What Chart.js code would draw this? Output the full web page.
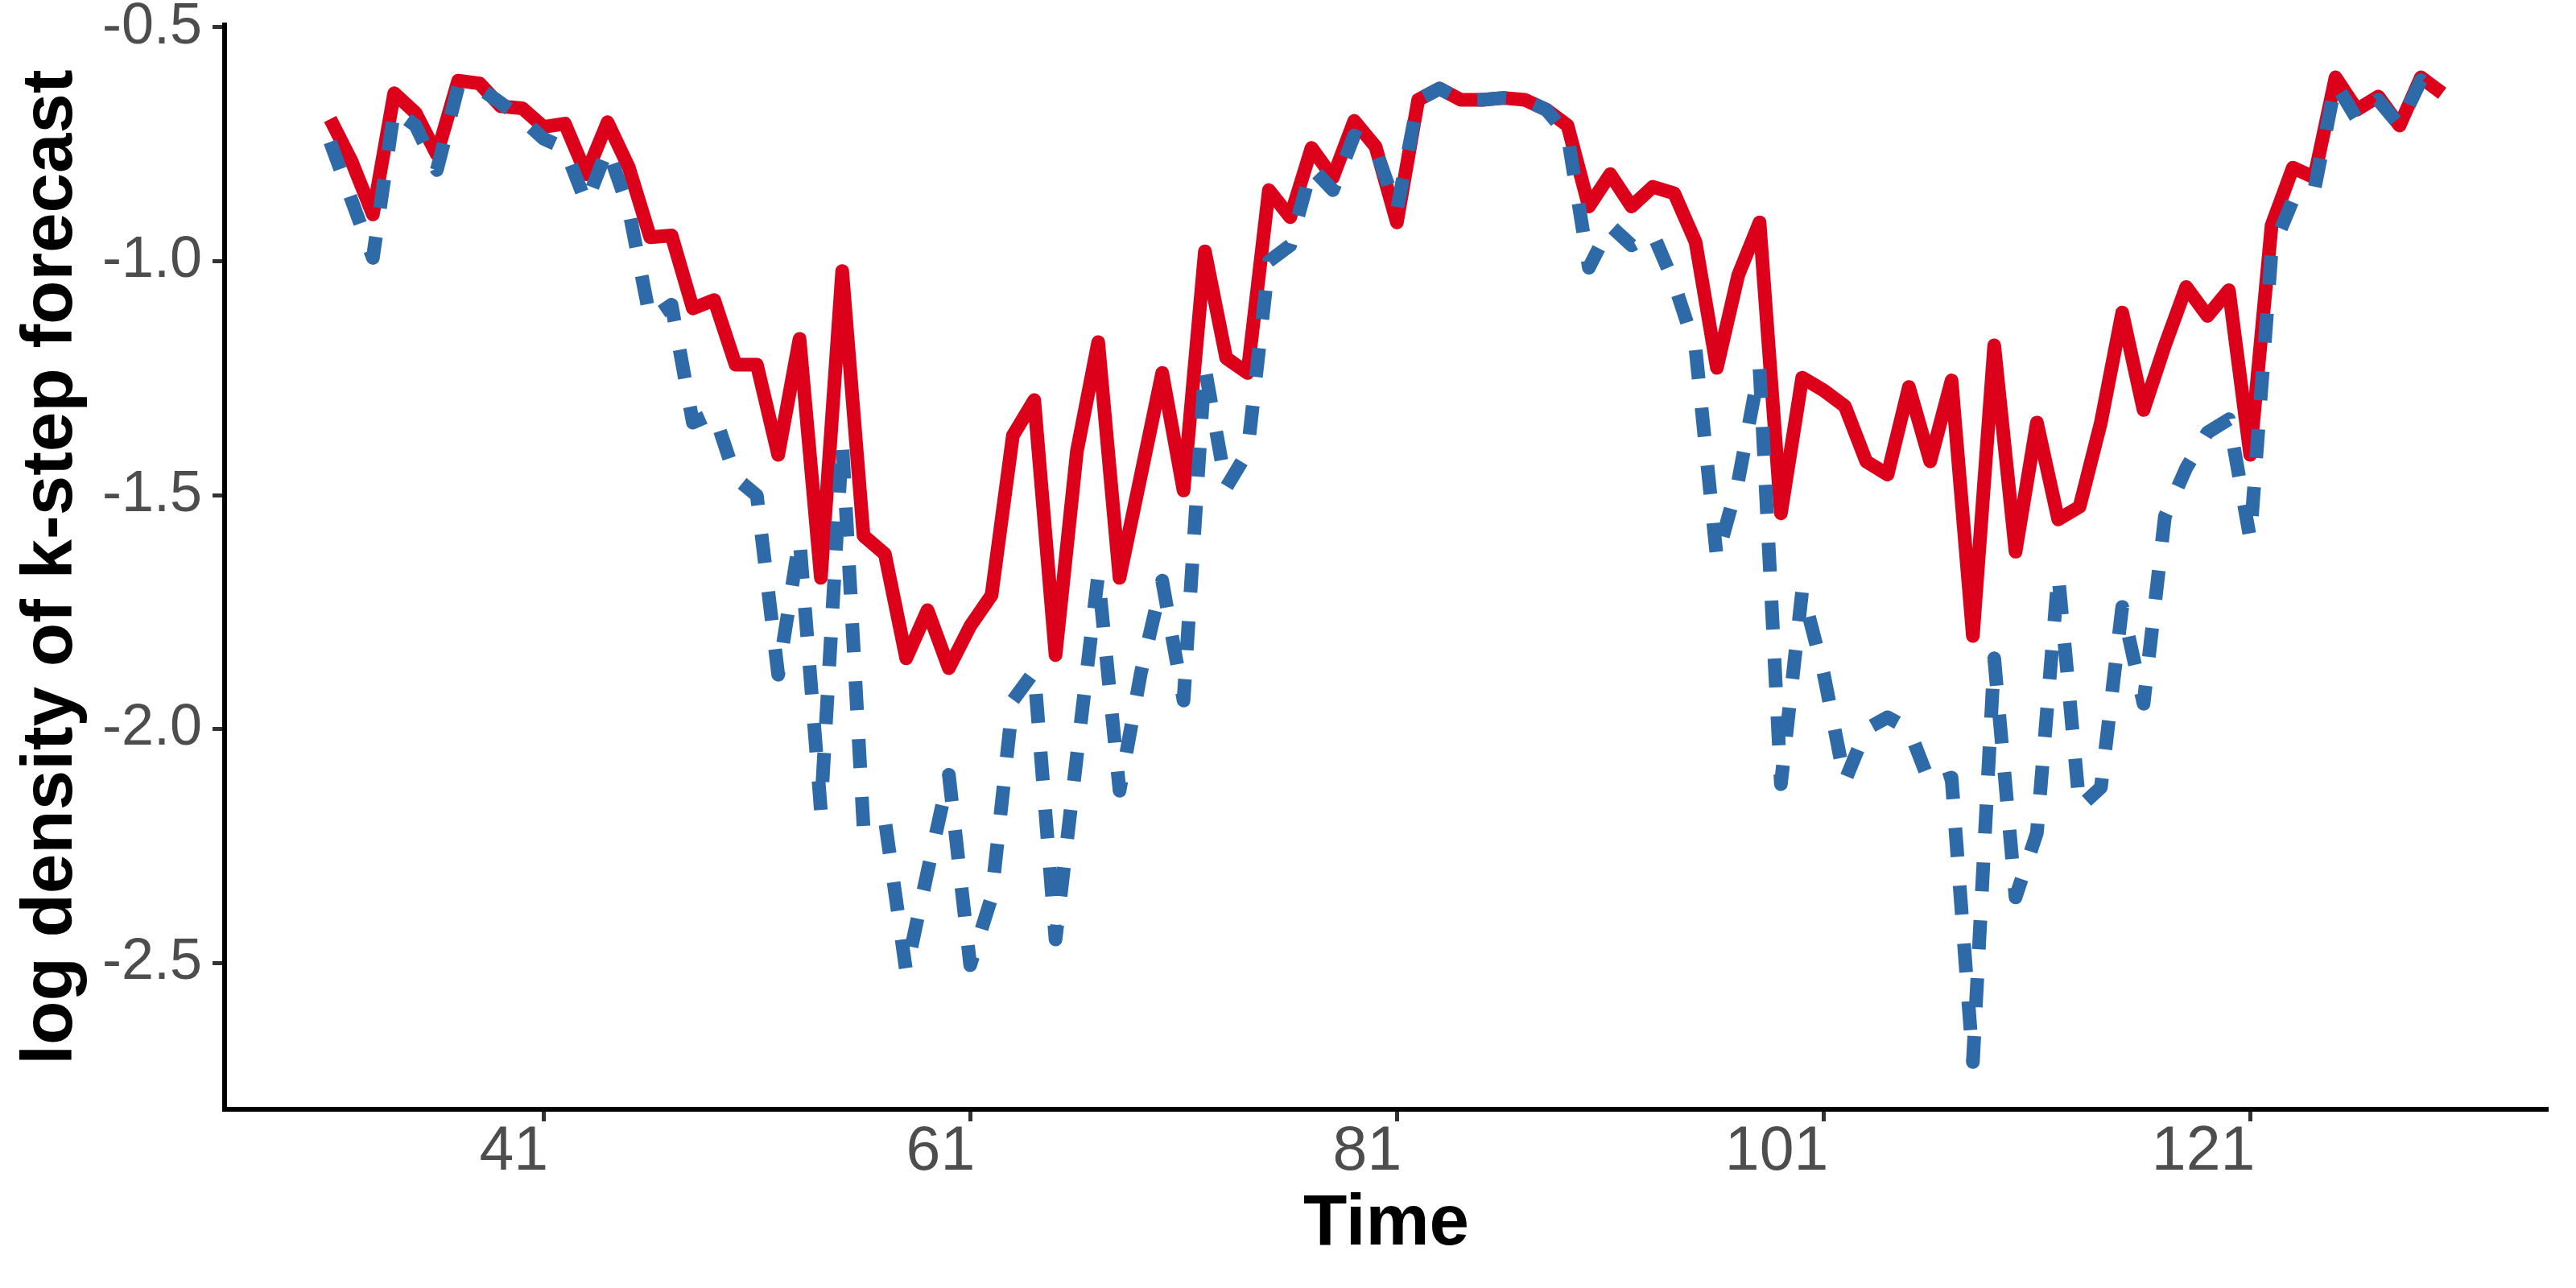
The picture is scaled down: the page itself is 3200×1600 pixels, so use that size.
<!DOCTYPE html>
<html>
<head>
<meta charset="utf-8">
<title>log density of k-step forecast</title>
<script src="https://cdn.jsdelivr.net/npm/chart.js@4.4.1/dist/chart.umd.min.js"></script>
<style>
    html, body { margin: 0; padding: 0; background: #ffffff; }
    #chartBox { width: 3200px; height: 1600px; }
</style>
</head>
<body>
<div id="chartBox"><canvas id="forecastChart" width="3200" height="1600"></canvas></div>
<script>
// Time index (x axis)
const timePoints = [
    31, 32, 33, 34, 35, 36, 37, 38, 39, 40,
    41, 42, 43, 44, 45, 46, 47, 48, 49, 50,
    51, 52, 53, 54, 55, 56, 57, 58, 59, 60,
    61, 62, 63, 64, 65, 66, 67, 68, 69, 70,
    71, 72, 73, 74, 75, 76, 77, 78, 79, 80,
    81, 82, 83, 84, 85, 86, 87, 88, 89, 90,
    91, 92, 93, 94, 95, 96, 97, 98, 99, 100,
    101, 102, 103, 104, 105, 106, 107, 108, 109, 110,
    111, 112, 113, 114, 115, 116, 117, 118, 119, 120,
    121, 122, 123, 124, 125, 126, 127, 128, 129, 130
];

// Solid red series
const solidSeries = [
    -0.696, -0.786, -0.900, -0.641, -0.683, -0.772, -0.614, -0.620, -0.669, -0.673,
    -0.713, -0.706, -0.814, -0.703, -0.800, -0.949, -0.945, -1.101, -1.083, -1.221,
    -1.221, -1.414, -1.166, -1.677, -1.021, -1.587, -1.626, -1.849, -1.746, -1.870,
    -1.780, -1.714, -1.373, -1.297, -1.842, -1.407, -1.173, -1.677, -1.458, -1.239,
    -1.490, -0.979, -1.207, -1.239, -0.848, -0.906, -0.758, -0.821, -0.700, -0.755,
    -0.917, -0.655, -0.631, -0.655, -0.655, -0.651, -0.655, -0.676, -0.710, -0.883,
    -0.814, -0.883, -0.841, -0.855, -0.959, -1.228, -1.030, -0.917, -1.539, -1.249,
    -1.276, -1.310, -1.428, -1.456, -1.269, -1.428, -1.255, -1.801, -1.180, -1.621,
    -1.345, -1.552, -1.525, -1.345, -1.110, -1.318, -1.180, -1.055, -1.117, -1.062,
    -1.414, -0.924, -0.800, -0.821, -0.607, -0.676, -0.648, -0.710, -0.607, -0.641
];

// Dashed blue series
const dashedSeries = [
    -0.745, -0.869, -0.993, -0.676, -0.710, -0.805, -0.627, -0.630, -0.662, -0.696,
    -0.738, -0.759, -0.876, -0.759, -0.890, -1.124, -1.093, -1.345, -1.325, -1.463,
    -1.501, -1.884, -1.594, -2.174, -1.387, -2.210, -2.194, -2.519, -2.305, -2.098,
    -2.505, -2.360, -1.939, -1.877, -2.450, -2.058, -1.670, -2.132, -1.880, -1.683,
    -1.939, -1.228, -1.484, -1.408, -1.000, -0.966, -0.800, -0.848, -0.731, -0.760,
    -0.890, -0.655, -0.631, -0.655, -0.655, -0.651, -0.655, -0.676, -0.730, -1.014,
    -0.924, -0.966, -0.941, -1.048, -1.187, -1.635, -1.470, -1.228, -2.118, -1.704,
    -1.880, -2.112, -2.000, -1.975, -2.000, -2.118, -2.104, -2.712, -1.849, -2.360,
    -2.222, -1.670, -2.167, -2.125, -1.739, -1.946, -1.546, -1.442, -1.366, -1.338,
    -1.594, -0.979, -0.869, -0.848, -0.620, -0.696, -0.655, -0.710, -0.613, -0.655
];

// Tick labels
const xTicks = [41, 61, 81, 101, 121];
const yTicks = [-2.5, -2.0, -1.5, -1.0, -0.5];

const fontFamily = "'Liberation Sans', Arial, Helvetica, sans-serif";

function toPoints(values) {
    return values.map(function (v, i) {
        return { x: timePoints[i], y: v };
    });
}

const ctx = document.getElementById('forecastChart').getContext('2d');
const forecastChart = new Chart(ctx, {
    type: 'line',
    data: {
        datasets: [{
            label: 'dashed',
            data: toPoints(dashedSeries),
            borderColor: '#2E6AA8',
            borderWidth: 17,
            borderDash: [36, 36],
            borderCapStyle: 'butt',
            borderJoinStyle: 'round',
            pointRadius: 0,
            tension: 0,
            fill: false,
            order: 0
        },
        {
            label: 'solid',
            data: toPoints(solidSeries),
            borderColor: '#DC001A',
            borderWidth: 17,
            borderCapStyle: 'butt',
            borderJoinStyle: 'round',
            pointRadius: 0,
            tension: 0,
            fill: false,
            order: 1
        }
        ]
    },
    options: {
        responsive: false,
        animation: false,
        devicePixelRatio: 1,
        layout: {
            padding: { top: 31, right: 35, left: 0, bottom: 0 }
        },
        plugins: {
            legend: { display: false },
            tooltip: { enabled: false }
        },
        scales: {
            x: {
                type: 'linear',
                min: 26.05,
                max: 134.95,
                afterBuildTicks: function (scale) {
                    scale.ticks = xTicks.map(function (v) { return { value: v }; });
                },
                afterFit: function (scale) {
                    scale.height = 222;
                    scale.paddingLeft = 0;
                    scale.paddingRight = 0;
                },
                border: { display: true, color: '#000000', width: 6 },
                grid: {
                    drawOnChartArea: false,
                    drawTicks: true,
                    tickLength: 15,
                    tickColor: '#333333',
                    tickWidth: 5
                },
                ticks: {
                    autoSkip: false,
                    maxRotation: 0,
                    align: 'end',
                    labelOffset: 6,
                    padding: 0,
                    color: '#4D4D4D',
                    font: { family: fontFamily, size: 77, lineHeight: 1 },
                    callback: function (value) { return String(value); }
                },
                title: {
                    display: true,
                    text: 'Time',
                    color: '#000000',
                    font: { family: fontFamily, size: 89, weight: 'bold', lineHeight: 1 },
                    padding: { top: 0, bottom: 34.5 }
                }
            },
            y: {
                type: 'linear',
                min: -2.813,
                max: -0.495,
                afterBuildTicks: function (scale) {
                    scale.ticks = yTicks.map(function (v) { return { value: v }; });
                },
                afterFit: function (scale) {
                    scale.width = 279;
                    scale.paddingTop = 0;
                    scale.paddingBottom = 0;
                },
                border: { display: true, color: '#000000', width: 6 },
                grid: {
                    drawOnChartArea: false,
                    drawTicks: true,
                    tickLength: 15,
                    tickColor: '#333333',
                    tickWidth: 5
                },
                ticks: {
                    padding: 13,
                    color: '#4D4D4D',
                    font: { family: fontFamily, size: 72, lineHeight: 1 },
                    callback: function (value) { return value.toFixed(1); }
                },
                title: {
                    display: true,
                    text: 'log density of k-step forecast',
                    color: '#000000',
                    font: { family: fontFamily, size: 89, weight: 'bold', lineHeight: 1 },
                    padding: { top: 19.5, bottom: 0 }
                }
            }
        }
    }
});
</script>
</body>
</html>
